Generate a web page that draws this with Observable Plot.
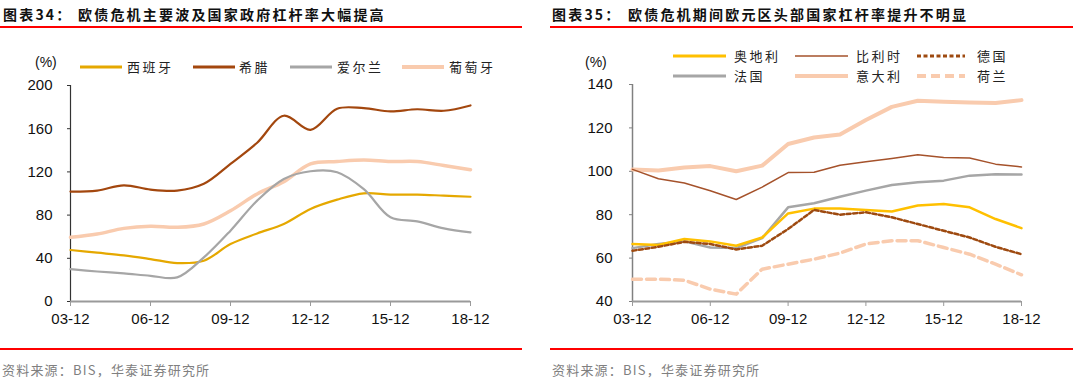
<!DOCTYPE html>
<html>
<head>
<meta charset="utf-8">
<script src="https://cdn.jsdelivr.net/npm/d3@7"></script>
<script src="https://cdn.jsdelivr.net/npm/@observablehq/plot@0.6"></script>
<style>
  body { margin: 0; background: #fff; }
  #wrap { position: relative; width: 1080px; height: 388px; background: #fff; overflow: hidden;
          font-family: "Noto Sans CJK SC", "Liberation Sans", sans-serif; }
  .abs { position: absolute; white-space: nowrap; }
  .title { font-size: 14px; font-weight: 700; line-height: 14px; color: #111; letter-spacing: 2.2px; }
  .red { position: absolute; height: 2px; background: #ff0000; }
  .src { font-size: 13px; line-height: 13px; color: #808080; letter-spacing: 1.2px; }
  .pct { font-family: "Liberation Sans", Arial, sans-serif; font-size: 14px; line-height: 14px; color: #111; }
  .leg { font-size: 13px; line-height: 13px; color: #222; letter-spacing: 2.5px; }
  .plot { position: absolute; top: 0; }
</style>
</head>
<body>
<div id="wrap"></div>
<script>
// ---------- data ----------
const years = [2003,2004,2005,2006,2007,2008,2009,2010,2011,2012,2013,2014,2015,2016,2017,2018];
const xTicks = [2003,2006,2009,2012,2015,2018];
const xTickLabels = ["03-12","06-12","09-12","12-12","15-12","18-12"];

// Chart 34
const yTicksLeft = [0,40,80,120,160,200];
const spain    = [47.7,45.2,42.7,39.3,35.6,37.8,53.2,63.0,71.8,85.7,94.3,100.2,99.0,99.0,98.0,97.0];
const greece   = [101.8,102.7,107.6,103.6,102.7,109.0,127.4,147.0,172.0,159.0,178.5,179.0,176.0,178.0,176.6,181.5];
const ireland  = [30.0,27.8,26.0,23.8,22.3,40.8,65.6,93.4,113.5,120.6,119.7,104.0,78.0,74.2,67.7,64.0];
const portugal = [59.4,62.5,67.7,69.6,68.7,71.8,84.0,99.6,111.0,127.4,129.6,131.0,129.6,129.6,125.9,122.0];
const leftNames = ["西班牙","希腊","爱尔兰","葡萄牙"];

// Chart 35
const yTicksRight = [40,60,80,100,120,140];
const austria     = [66.5,66.0,68.8,67.7,65.7,69.5,80.6,82.8,82.9,82.2,81.5,84.2,84.9,83.4,78.0,73.8];
const belgium     = [100.9,96.6,94.6,91.0,87.0,92.7,99.4,99.6,102.8,104.4,105.9,107.6,106.4,106.1,103.3,102.0];
const germany     = [63.4,65.2,67.5,66.5,64.0,65.7,73.4,82.2,80.0,81.1,78.8,75.7,72.6,69.5,65.2,61.8];
const france      = [64.6,66.5,67.7,64.9,64.6,69.2,83.4,85.3,88.3,91.1,93.7,94.9,95.7,98.0,98.6,98.5];
const italy       = [100.8,100.4,101.8,102.4,100.0,102.6,112.6,115.6,117.0,123.6,129.7,132.5,132.0,131.7,131.5,132.8];
const netherlands = [50.3,50.3,49.8,45.7,43.4,54.9,57.2,59.5,62.3,66.5,68.0,68.0,64.9,61.8,57.2,52.3];
const rightNames = ["奥地利","比利时","德国","法国","意大利","荷兰"];

const titleLeft  = ["图表34：", "欧债危机主要波及国家政府杠杆率大幅提高"];
const titleRight = ["图表35：", "欧债危机期间欧元区头部国家杠杆率提升不明显"];
const sourceText = "资料来源：BIS，华泰证券研究所";

// ---------- helpers ----------
const rows = (arr) => years.map((y, i) => ({year: y, v: arr[i]}));
const fmtX = (d) => xTickLabels[xTicks.indexOf(d)];

const wrap = document.getElementById("wrap");
function addDiv(cls, left, top, html, extra) {
  const d = document.createElement("div");
  d.className = cls;
  d.style.left = left + "px";
  d.style.top = top + "px";
  if (extra) Object.assign(d.style, extra);
  d.innerHTML = html;
  wrap.appendChild(d);
  return d;
}
function legendItem(x1, x2, y, labelX, label, stroke, width, dash) {
  const svg = `<svg width="${x2 - x1 + 4}" height="10" style="position:absolute;left:${x1 - 2}px;top:${y - 5}px;overflow:visible">
    <line x1="2" y1="5" x2="${x2 - x1 + 2}" y2="5" stroke="${stroke}" stroke-width="${width}" ${dash ? `stroke-dasharray="${dash}"` : ""}/></svg>`;
  const d = document.createElement("div");
  d.innerHTML = svg;
  wrap.appendChild(d.firstElementChild);
  addDiv("abs leg", labelX, y - 7, label);
}

// ---------- left chart ----------
const leftStyles = [
  {data: portugal, stroke: "#F9CBAE", w: 3.5},
  {data: spain,    stroke: "#E5A800", w: 2.2},
  {data: greece,   stroke: "#A3470E", w: 2.2},
  {data: ireland,  stroke: "#A6A6A6", w: 2.2}
];
const plotL = Plot.plot({
  width: 540, height: 388,
  marginLeft: 70, marginRight: 70, marginTop: 85, marginBottom: 87,
  style: {fontFamily: "'Liberation Sans', Arial, sans-serif", background: "transparent"},
  x: {domain: [2003, 2018], label: null},
  y: {domain: [0, 200], label: null},
  marks: [
    Plot.axisY({ticks: yTicksLeft, label: null, tickSize: 3, tickPadding: 15, fontSize: 15, stroke: "#333", fill: "#111"}),
    Plot.ruleX([2003], {stroke: "#333", strokeWidth: 1.2}),
    Plot.ruleY([0], {stroke: "#9a9a9a", strokeWidth: 2}),
    Plot.axisX({ticks: xTicks, label: null, tickFormat: fmtX, tickSize: 5, tickPadding: 7, fontSize: 15, stroke: "#9a9a9a", fill: "#111"}),
    ...leftStyles.map(s => Plot.line(rows(s.data), {x: "year", y: "v", stroke: s.stroke, strokeWidth: s.w, curve: "catmull-rom"}))
  ]
});
plotL.classList.add("plot");
plotL.style.left = "0px";
wrap.appendChild(plotL);

// ---------- right chart ----------
const rightStyles = [
  {data: italy,       stroke: "#F9CBAE", w: 4,   dash: null},
  {data: netherlands, stroke: "#F9CBAE", w: 3.5, dash: "9,5"},
  {data: belgium,     stroke: "#A5522B", w: 1.5, dash: null},
  {data: france,      stroke: "#A6A6A6", w: 2.5, dash: null},
  {data: austria,     stroke: "#FFC000", w: 2.5, dash: null},
  {data: germany,     stroke: "#9E4A10", w: 2.5, dash: "4,2.5"}
];
const plotR = Plot.plot({
  width: 540, height: 388,
  marginLeft: 92, marginRight: 59, marginTop: 84, marginBottom: 87,
  style: {fontFamily: "'Liberation Sans', Arial, sans-serif", background: "transparent"},
  x: {domain: [2003, 2018], label: null},
  y: {domain: [40, 140], label: null},
  marks: [
    Plot.axisY({ticks: yTicksRight, label: null, tickSize: 3, tickPadding: 17, fontSize: 15, stroke: "#808080", fill: "#111"}),
    Plot.ruleX([2003], {stroke: "#808080", strokeWidth: 1.5}),
    Plot.ruleY([40], {stroke: "#9a9a9a", strokeWidth: 2}),
    Plot.axisX({ticks: xTicks, label: null, tickFormat: fmtX, tickSize: 5, tickPadding: 7, fontSize: 15, stroke: "#9a9a9a", fill: "#111"}),
    ...rightStyles.map(s => Plot.line(rows(s.data), {x: "year", y: "v", stroke: s.stroke, strokeWidth: s.w, strokeDasharray: s.dash || undefined}))
  ]
});
plotR.classList.add("plot");
plotR.style.left = "540px";
wrap.appendChild(plotR);

// ---------- titles, rules, legends, sources ----------
addDiv("abs title", 3, 7, titleLeft[0]);
addDiv("abs title", 78, 7, titleLeft[1]);
addDiv("abs title", 552, 7, titleRight[0]);
addDiv("abs title", 628, 7, titleRight[1]);
addDiv("red", 0, 26, "", {width: "522px"});
addDiv("red", 550, 26, "", {width: "523px"});
addDiv("red", 0, 348, "", {width: "522px"});
addDiv("red", 550, 348, "", {width: "523px"});
addDiv("abs src", 2, 363, sourceText);
addDiv("abs src", 552, 363, sourceText);
addDiv("abs pct", 35, 55, "(%)");
addDiv("abs pct", 585, 55, "(%)");

// left legend
legendItem(80, 122, 67, 127, leftNames[0], "#E5A800", 3);
legendItem(193, 235, 67, 239, leftNames[1], "#A3470E", 3);
legendItem(290, 332, 67, 337, leftNames[2], "#A6A6A6", 3);
legendItem(402, 444, 67, 449, leftNames[3], "#F9CBAE", 4);

// right legend
legendItem(673, 726, 56, 734, rightNames[0], "#FFC000", 3);
legendItem(795, 848, 56, 856, rightNames[1], "#A5522B", 1.5);
legendItem(917, 965, 56, 977, rightNames[2], "#9E4A10", 3, "4,2.5");
legendItem(673, 726, 76, 734, rightNames[3], "#A6A6A6", 3);
legendItem(795, 848, 76, 856, rightNames[4], "#F9CBAE", 4);
legendItem(917, 965, 76, 977, rightNames[5], "#F9CBAE", 4, "9,5");
</script>
</body>
</html>
